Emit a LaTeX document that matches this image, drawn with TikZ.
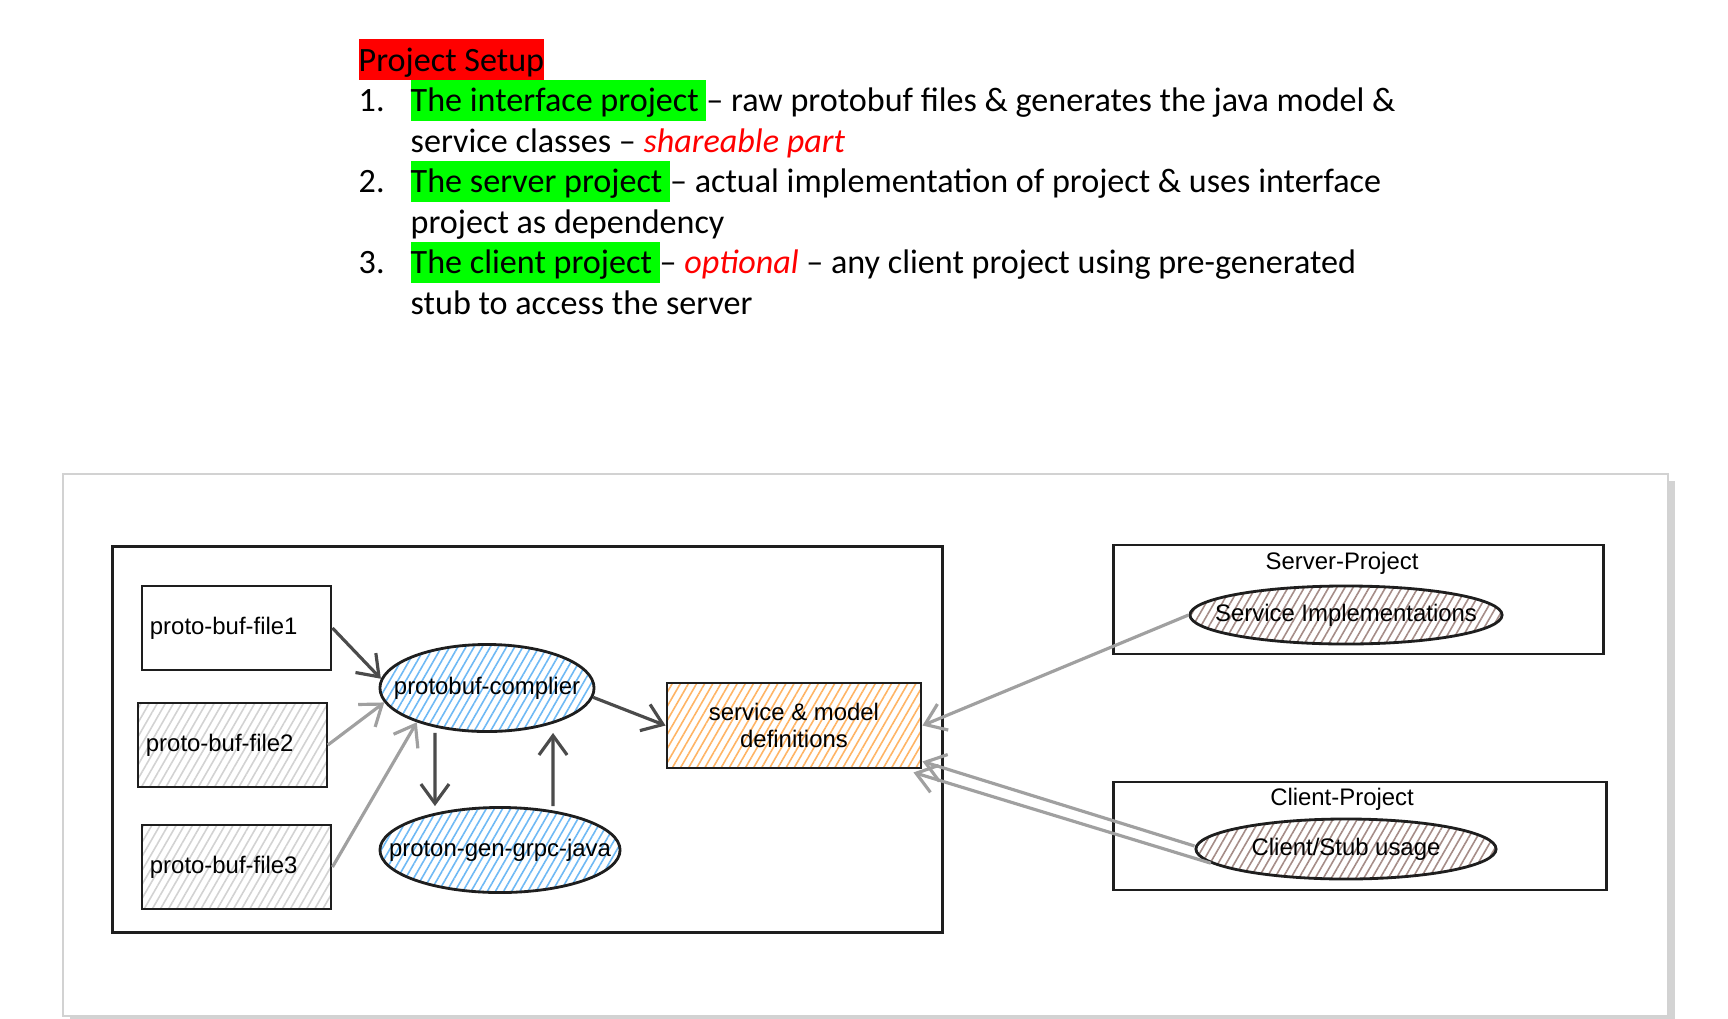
\documentclass[tikz,border=0pt]{standalone}
\usepackage{fontspec}
\setmainfont{Carlito}
\newfontfamily\sketchfont{Liberation Sans}
\usetikzlibrary{shapes.geometric,patterns.meta,shadows,arrows.meta}

\definecolor{hlred}{RGB}{255,0,0}
\definecolor{hlgreen}{RGB}{0,255,0}
\definecolor{darkarrow}{RGB}{75,75,75}
\definecolor{lightarrow}{RGB}{160,160,160}
\definecolor{hatchblue}{RGB}{110,185,245}
\definecolor{hatchorange}{RGB}{255,180,100}
\definecolor{hatchbrown}{RGB}{165,140,135}
\definecolor{hatchgray}{RGB}{210,210,210}
\definecolor{sketchline}{RGB}{30,30,30}

% highlighted run of text, as in the slide
\newcommand{\marked}[2]{{\setlength{\fboxsep}{0pt}\colorbox{#1}{\rule[-2.6pt]{0pt}{11.6pt}#2}}}

\begin{document}
\begin{tikzpicture}[x=0.01cm,y=-0.01cm,
    txtline/.style={anchor=base west,inner sep=0pt,font=\fontsize{9.7}{11.6}\selectfont},
    sk/.style={font=\sketchfont\fontsize{6.8}{7.8}\selectfont},
    group/.style={draw=sketchline,line width=0.8pt,inner sep=0pt},
    filebox/.style={draw=sketchline,line width=0.8pt,minimum width=1.89cm,minimum height=0.84cm,
      text width=1.73cm,align=left,inner sep=0pt,sk},
    hatch/.style={pattern={Lines[angle=60,distance=2pt,line width=0.45pt]},pattern color=#1},
    tool/.style={ellipse,draw=sketchline,line width=0.8pt,inner sep=0pt,hatch=hatchblue,
      label={[sk,inner sep=0pt]center:#1}},
    usecase/.style={ellipse,draw=sketchline,line width=0.8pt,inner sep=0pt,hatch=hatchbrown,
      label={[sk,inner sep=0pt]center:#1}},
    darr/.style={draw=darkarrow,line width=0.9pt,-{Straight Barb[length=5.5pt,width=8pt]}},
    larr/.style={draw=lightarrow,line width=0.9pt,-{Straight Barb[length=5.5pt,width=8pt]}}]
  \useasboundingbox (0,0) rectangle (1728,1018);

  % the notes above the sketch
  \node[txtline] (title) at (358,71) {\marked{hlred}{Project Setup}};
  \node[txtline] (num1) at (358,111.5) {1.};
  \node[txtline] (item1a) at (410,111.5) {\marked{hlgreen}{The interface project\ }– raw protobuf files \& generates the java model \&};
  \node[txtline] (item1b) at (410,152) {service classes – \textcolor{hlred}{\itshape shareable part}};
  \node[txtline] (num2) at (358,192.5) {2.};
  \node[txtline] (item2a) at (410,192.5) {\marked{hlgreen}{The server project\ }– actual implementation of project \& uses interface};
  \node[txtline] (item2b) at (410,233) {project as dependency};
  \node[txtline] (num3) at (358,273.5) {3.};
  \node[txtline] (item3a) at (410,273.5) {\marked{hlgreen}{The client project\ }– \textcolor{hlred}{\itshape optional} – any client project using pre-generated};
  \node[txtline] (item3b) at (410,314) {stub to access the server};

  % the sketch
  \draw[gray!35,fill=white,drop shadow={shadow xshift=2pt,shadow yshift=-2pt,opacity=0.35}]
    (63,474) rectangle (1668,1016);

  \node[group,minimum width=8.29cm,minimum height=3.85cm] (iface) at (527.5,739.5) {};
  \node[group,minimum width=4.89cm,minimum height=1.09cm] (server) at (1358.5,599.5) {};
  \node[group,minimum width=4.92cm,minimum height=1.08cm] (client) at (1360,836) {};
  \node[sk] (servertitle) at (1342,563) {Server-Project};
  \node[sk] (clienttitle) at (1342,799) {Client-Project};

  \node[filebox] (file1) at (236.5,628) {proto-buf-file1};
  \node[filebox,hatch=hatchgray] (file2) at (232.5,745) {proto-buf-file2};
  \node[filebox,hatch=hatchgray] (file3) at (236.5,867) {proto-buf-file3};

  \node[tool=protobuf-complier,minimum width=2.14cm,minimum height=0.87cm] (cmp) at (487,688) {};
  \node[tool=proton-gen-grpc-java,minimum width=2.4cm,minimum height=0.85cm] (gen) at (500,850) {};

  \node[draw=sketchline,line width=0.8pt,minimum width=2.54cm,minimum height=0.85cm,inner sep=0pt,
    align=center,sk,hatch=hatchorange] (defs) at (794,725.5) {service \& model\\definitions};

  \node[usecase=Service Implementations,minimum width=3.12cm,minimum height=0.58cm] (impl) at (1346,615) {};
  \node[usecase=Client/Stub usage,minimum width=3.0cm,minimum height=0.6cm] (usage) at (1346,849) {};

  % connectors
  \draw[darr] (file1.east) -- (cmp.175);
  \draw[larr] (file2.east) -- (cmp.188);
  \draw[larr] (file3.east) -- (cmp.206);
  \draw[darr] (cmp.355) -- (defs.west);
  \draw[darr] ([xshift=-0.52cm]cmp.south) -- ([xshift=-0.65cm]gen.north);
  \draw[darr] ([xshift=0.53cm]gen.north) -- ([xshift=0.66cm]cmp.south);
  \draw[larr] (impl.west) -- (defs.east);
  \draw[larr] ([yshift=0.03cm]usage.west) -- ([yshift=0.08cm]defs.south east);
  \draw[larr] (usage.186) -- ([xshift=-0.09cm,yshift=-0.03cm]defs.south east);
\end{tikzpicture}
\end{document}
